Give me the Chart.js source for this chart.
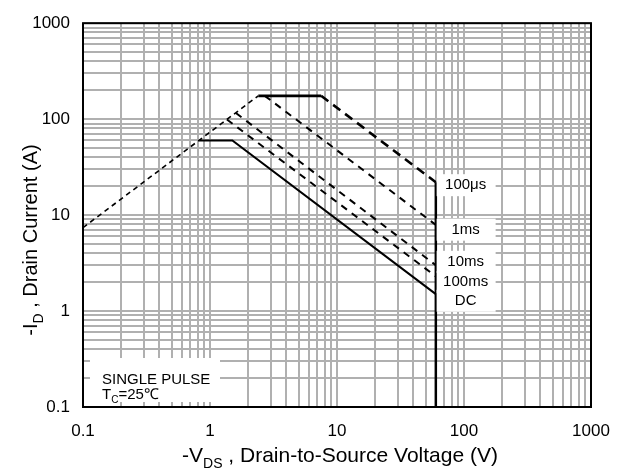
<!DOCTYPE html>
<html>
<head>
<meta charset="utf-8">
<script src="https://cdn.jsdelivr.net/npm/chart.js@4.4.1/dist/chart.umd.min.js"></script>
<style>
  html, body { margin: 0; padding: 0; background: #fff; }
</style>
</head>
<body>
<canvas id="soa" width="630" height="469"></canvas>
<script>
// Safe operating area curves, -VDS in volts / -ID in amps
const rdsLimit   = [{x: 0.1, y: 7.4}, {x: 2.4, y: 175}];
const pulse100us = [{x: 2.4, y: 175}, {x: 7.5, y: 175}, {x: 60, y: 22}];
const pulse1ms   = [{x: 2.7, y: 175}, {x: 60, y: 7.9}];
const pulse10ms  = [{x: 1.6, y: 116}, {x: 60, y: 3.0}];
const pulse100ms = [{x: 1.36, y: 99}, {x: 60, y: 2.3}];
const dcLimit    = [{x: 0.82, y: 60}, {x: 1.5, y: 60}, {x: 60, y: 1.5}];
const bvdssLimit = [{x: 60, y: 22}, {x: 60, y: 0.1}];

// curve names written beside the 60 V edge
const curveLabels = ['100μs', '1ms', '10ms', '100ms', 'DC'];
const curveLabelY = [20.5, 7.05, 3.26, 2.0, 1.28];
const curveLabelX = 103;

const xTickLabels = ['0.1', '1', '10', '100', '1000'];
const yTickLabels = ['0.1', '1', '10', '100', '1000'];

const FONT = '"Liberation Sans", Arial, sans-serif';

// 1..9 per decade so every grid line is drawn
function decadeTicks(scale) {
  const ticks = [];
  for (let e = -1; e <= 2; e++) {
    for (let m = 1; m <= 9; m++) ticks.push({ value: m * Math.pow(10, e) });
  }
  ticks.push({ value: 1000 });
  scale.ticks = ticks;
}

function decadeLabel(labels) {
  return function (value) {
    const k = Math.log10(value) + 1;
    const r = Math.round(k);
    return Math.abs(k - r) < 1e-6 ? labels[r] : '';
  };
}

// text with subscript pieces: [[text, isSub], ...]
function drawRich(ctx, parts, x, y, size, align) {
  const subSize = Math.round(size * 0.68);
  let total = 0;
  parts.forEach(p => {
    ctx.font = (p[1] ? subSize : size) + 'px ' + FONT;
    total += ctx.measureText(p[0]).width;
  });
  let cx = align === 'center' ? x - total / 2 : x;
  ctx.textAlign = 'left';
  ctx.textBaseline = 'alphabetic';
  parts.forEach(p => {
    ctx.font = (p[1] ? subSize : size) + 'px ' + FONT;
    ctx.fillText(p[0], cx, p[1] ? y + size * 0.28 : y);
    cx += ctx.measureText(p[0]).width;
  });
}

const annotations = {
  id: 'annotations',
  afterDatasetsDraw(chart) {
    const { ctx, chartArea: a, scales: { x, y } } = chart;
    ctx.save();
    ctx.fillStyle = '#000';

    // curve names on white boxes
    curveLabels.forEach((txt, i) => {
      const px = x.getPixelForValue(curveLabelX);
      const py = y.getPixelForValue(curveLabelY[i]);
      ctx.fillStyle = '#fff';
      ctx.fillRect(px - 29, py - 11, 59, 22);
      ctx.fillStyle = '#000';
      ctx.font = '15px ' + FONT;
      ctx.textAlign = 'center';
      ctx.textBaseline = 'middle';
      ctx.fillText(txt, px, py);
    });

    // test condition note
    ctx.fillStyle = '#fff';
    ctx.fillRect(a.left + 7, a.bottom - 49, 130, 44);
    ctx.fillStyle = '#000';
    ctx.font = '15px ' + FONT;
    ctx.textAlign = 'left';
    ctx.textBaseline = 'alphabetic';
    ctx.fillText('SINGLE PULSE', a.left + 19, a.bottom - 23);
    drawRich(ctx, [['T', false], ['C', true], ['=25℃', false]], a.left + 19, a.bottom - 8, 15, 'left');

    // plot frame
    ctx.strokeStyle = '#000';
    ctx.lineWidth = 2;
    ctx.strokeRect(a.left, a.top, a.right - a.left, a.bottom - a.top);

    // axis titles
    drawRich(ctx, [['-V', false], ['DS', true], [' , Drain-to-Source Voltage (V)', false]],
      (a.left + a.right) / 2 + 3, 462, 21, 'center');
    ctx.translate(37, 240);
    ctx.rotate(-Math.PI / 2);
    drawRich(ctx, [['-I', false], ['D', true], [' , Drain Current (A)', false]], 0, 0, 20, 'center');
    ctx.restore();
  }
};

const dashedThin = { borderDash: [7, 6], borderWidth: 2 };

new Chart(document.getElementById('soa'), {
  type: 'line',
  data: {
    datasets: [
      { label: 'RDS(on) limit', data: rdsLimit, borderDash: [5, 4], borderWidth: 1.6 },
      { label: '100μs', data: pulse100us, borderWidth: 2.6,
        segment: { borderDash: c => (c.p0DataIndex === 0 ? [] : [9, 6]) } },
      { label: '1ms', data: pulse1ms, ...dashedThin },
      { label: '10ms', data: pulse10ms, ...dashedThin },
      { label: '100ms', data: pulse100ms, ...dashedThin },
      { label: 'DC', data: dcLimit, borderWidth: 2 },
      { label: 'BVDSS', data: bvdssLimit, borderWidth: 2.5 }
    ].map(d => Object.assign({ borderColor: '#000', pointRadius: 0, fill: false, tension: 0 }, d))
  },
  options: {
    responsive: false,
    animation: false,
    devicePixelRatio: 1,
    layout: { padding: { left: 0, right: 39, top: 13, bottom: 0 } },
    plugins: { legend: { display: false }, tooltip: { enabled: false } },
    scales: {
      x: {
        type: 'logarithmic',
        min: 0.1,
        max: 1000,
        afterBuildTicks: decadeTicks,
        afterFit: s => { s.height = 62; },
        border: { display: false },
        grid: { color: '#b0b0b0', lineWidth: 2, drawTicks: false },
        ticks: {
          autoSkip: false, maxRotation: 0, padding: 14,
          color: '#000', font: { family: FONT, size: 17 },
          callback: decadeLabel(xTickLabels)
        }
      },
      y: {
        type: 'logarithmic',
        min: 0.1,
        max: 1000,
        afterBuildTicks: decadeTicks,
        afterFit: s => { s.width = 83; },
        border: { display: false },
        grid: { color: '#b0b0b0', lineWidth: 2, drawTicks: false },
        ticks: {
          autoSkip: false, padding: 13,
          color: '#000', font: { family: FONT, size: 17 },
          callback: decadeLabel(yTickLabels)
        }
      }
    }
  },
  plugins: [annotations]
});
</script>
</body>
</html>
